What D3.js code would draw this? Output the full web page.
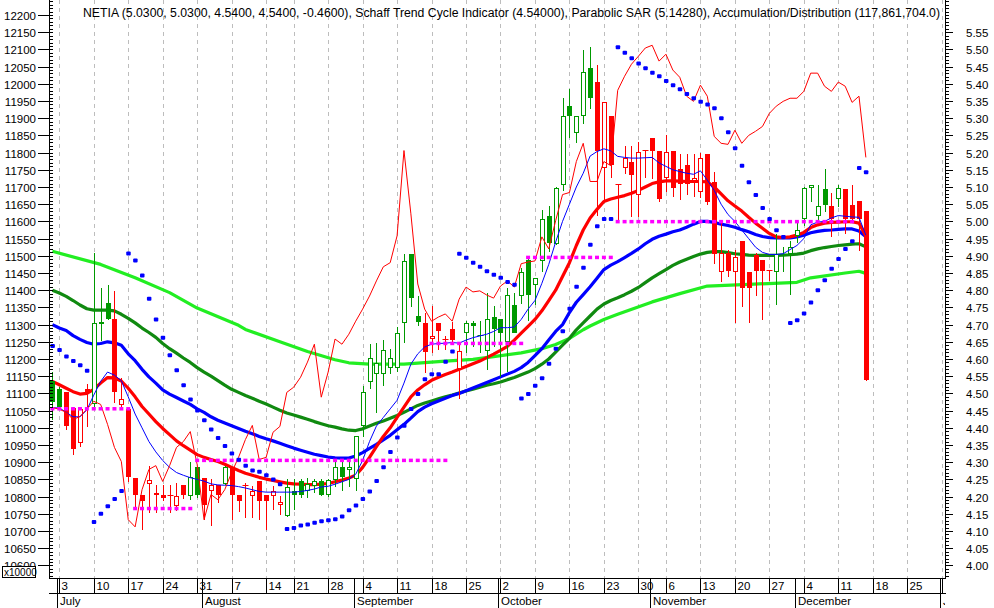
<!DOCTYPE html>
<html><head><meta charset="utf-8">
<script src="https://cdn.jsdelivr.net/npm/d3@7"></script>
<style>body{margin:0;background:#fff;overflow:hidden} text{font-family:"Liberation Sans",Arial,sans-serif}</style>
</head><body><svg id="c" width="994" height="608"></svg>
<script>
// ---------- DATA ----------
const firstDay = "2006-06-30";
const lastAxisDay = "2007-01-01";
const holidays = ["2006-08-15", "2006-11-01"];
const monthNames = ["January","February","March","April","May","June","July","August","September","October","November","December"];

const titleText = "NETIA (5.0300, 5.0300, 4.5400, 4.5400, -0.4600), Schaff Trend Cycle Indicator (4.54000), Parabolic SAR (5.14280), Accumulation/Distribution (117,861,704.0)";

const openP = [4.536,4.514,4.505,4.458,4.356,4.514,4.468,4.706,4.763,4.715,
 4.466,4.456,4.253,4.205,4.236,4.210,4.205,4.206,4.174,4.234,
 4.203,4.285,4.254,4.216,4.235,4.237,4.285,4.206,4.235,4.203,
 4.245,4.206,4.203,4.177,4.145,4.216,4.245,4.216,4.232,4.245,
 4.206,4.247,4.285,4.276,4.251,4.406,4.534,4.556,4.556,4.575,
 4.575,4.706,4.904,4.725,4.706,4.657,4.706,4.657,4.686,4.570,
 4.677,4.706,4.670,4.623,4.723,4.715,4.648,4.756,4.783,4.887,
 4.814,4.884,5.015,4.935,5.107,5.336,5.256,5.307,5.445,5.406,
 5.155,5.306,5.108,5.155,5.174,5.077,5.208,5.242,5.206,5.126,
 5.206,5.153,5.163,5.116,5.085,5.196,5.114,4.853,4.907,4.853,
 4.944,4.853,4.901,4.887,4.858,4.853,4.904,4.904,4.957,5.007,
 5.097,5.017,5.095,5.046,5.065,5.095,5.047,5.058,5.030];
const highP = [4.562,4.518,4.505,4.460,4.456,4.527,4.908,4.807,4.814,4.797,
 4.545,4.456,4.253,4.205,4.288,4.235,4.234,4.234,4.240,4.234,
 4.300,4.285,4.254,4.251,4.235,4.290,4.285,4.206,4.240,4.232,
 4.245,4.206,4.232,4.203,4.251,4.250,4.251,4.253,4.251,4.251,
 4.251,4.305,4.310,4.300,4.377,4.522,4.643,4.646,4.654,4.628,
 4.694,4.904,4.904,4.783,4.735,4.754,4.706,4.667,4.707,4.643,
 4.710,4.710,4.710,4.793,4.754,4.715,4.807,4.792,4.865,4.899,
 4.836,5.034,5.044,5.100,5.358,5.384,5.307,5.498,5.507,5.454,
 5.346,5.306,5.108,5.218,5.218,5.232,5.208,5.242,5.206,5.251,
 5.206,5.196,5.196,5.196,5.198,5.196,5.145,5.005,4.918,4.918,
 4.944,4.853,4.909,4.887,4.858,4.962,4.926,4.942,5.000,5.100,
 5.105,5.106,5.153,5.082,5.106,5.095,5.106,5.058,5.030];
const lowP = [4.425,4.456,4.396,4.324,4.346,4.406,4.459,4.655,4.717,4.475,
 4.464,4.246,4.165,4.106,4.155,4.155,4.190,4.155,4.162,4.195,
 4.193,4.200,4.135,4.116,4.184,4.237,4.135,4.157,4.140,4.140,
 4.135,4.106,4.165,4.150,4.145,4.165,4.200,4.200,4.213,4.206,
 4.203,4.232,4.220,4.232,4.220,4.377,4.517,4.447,4.524,4.560,
 4.565,4.648,4.754,4.700,4.561,4.619,4.628,4.628,4.648,4.488,
 4.619,4.638,4.620,4.570,4.638,4.551,4.565,4.680,4.763,4.712,
 4.759,4.855,4.913,4.935,5.090,5.245,5.230,5.287,5.330,5.020,
 5.063,5.130,4.997,5.140,5.015,5.015,5.130,5.126,5.060,5.087,
 5.075,5.065,5.080,5.073,5.070,5.050,4.880,4.826,4.840,4.708,
 4.754,4.708,4.785,4.715,4.830,4.759,4.855,4.788,4.940,4.990,
 5.058,5.000,5.030,4.957,5.044,4.966,5.007,4.916,4.540];
const closeP = [4.475,4.460,4.406,4.337,4.454,4.500,4.706,4.708,4.717,4.505,
 4.485,4.256,4.205,4.186,4.248,4.205,4.197,4.206,4.203,4.205,
 4.256,4.205,4.177,4.235,4.205,4.285,4.206,4.186,4.235,4.216,
 4.186,4.186,4.216,4.184,4.227,4.206,4.206,4.238,4.245,4.206,
 4.247,4.285,4.256,4.285,4.375,4.505,4.604,4.587,4.625,4.604,
 4.677,4.884,4.778,4.708,4.619,4.667,4.681,4.657,4.655,4.623,
 4.706,4.696,4.670,4.715,4.686,4.676,4.785,4.676,4.853,4.787,
 4.836,5.007,4.937,5.097,5.306,5.307,5.307,5.435,5.358,5.206,
 5.346,5.164,5.108,5.184,5.135,5.203,5.208,5.206,5.065,5.203,
 5.097,5.110,5.110,5.126,5.184,5.056,4.904,4.907,4.855,4.897,
 4.807,4.807,4.855,4.855,4.858,4.906,4.904,4.926,4.976,5.097,
 5.105,5.046,5.047,5.007,5.097,5.007,5.007,5.007,4.540];
// trend state of each bar: 1 = up (green), 0 = down (red)
const trendUp = [1,1,0,0,0,0,1,1,1,0,
 0,0,0,0,0,0,0,0,0,0,
 1,1,0,0,0,1,0,0,0,0,
 0,0,0,0,1,1,1,1,1,1,
 1,1,1,1,1,1,1,1,1,1,
 1,1,1,1,0,0,0,0,0,0,
 1,1,1,1,1,1,1,1,1,1,
 1,1,1,1,1,1,1,1,1,0,
 0,0,0,0,0,0,0,0,0,0,
 0,0,0,0,0,0,0,0,0,0,
 0,0,0,0,0,1,1,1,1,1,
 1,1,1,0,1,0,0,0,0];

const redMA = [4.535,4.525,4.515,4.505,4.498,4.500,4.512,4.530,4.546,4.545,
 4.536,4.515,4.490,4.462,4.440,4.418,4.398,4.380,4.362,4.348,
 4.335,4.322,4.314,4.308,4.302,4.294,4.285,4.276,4.268,4.262,
 4.256,4.251,4.247,4.243,4.239,4.237,4.236,4.235,4.235,4.236,
 4.238,4.243,4.248,4.254,4.262,4.285,4.314,4.345,4.375,4.400,
 4.430,4.460,4.490,4.510,4.525,4.538,4.547,4.555,4.562,4.570,
 4.578,4.586,4.594,4.604,4.614,4.625,4.637,4.655,4.675,4.695,
 4.715,4.740,4.770,4.800,4.840,4.880,4.930,4.975,5.010,5.035,
 5.058,5.065,5.070,5.075,5.082,5.090,5.100,5.110,5.115,5.118,
 5.118,5.117,5.116,5.116,5.116,5.115,5.100,5.080,5.060,5.045,
 5.030,5.012,4.995,4.980,4.965,4.955,4.953,4.955,4.960,4.968,
 4.982,4.990,4.995,4.997,4.998,4.999,4.999,4.995,4.957];
const blueMA = [4.700,4.690,4.683,4.668,4.657,4.648,4.643,4.645,4.650,4.647,
 4.640,4.615,4.595,4.570,4.548,4.530,4.510,4.498,4.488,4.478,
 4.468,4.455,4.445,4.432,4.422,4.414,4.406,4.398,4.390,4.383,
 4.375,4.368,4.362,4.355,4.348,4.341,4.335,4.329,4.323,4.319,
 4.315,4.313,4.312,4.312,4.318,4.328,4.340,4.352,4.365,4.378,
 4.394,4.410,4.428,4.447,4.460,4.470,4.478,4.486,4.494,4.500,
 4.508,4.516,4.524,4.532,4.540,4.548,4.556,4.564,4.575,4.590,
 4.610,4.630,4.655,4.680,4.700,4.735,4.765,4.787,4.810,4.835,
 4.860,4.873,4.883,4.895,4.907,4.920,4.935,4.948,4.957,4.963,
 4.970,4.975,4.983,4.992,5.000,5.000,4.997,4.992,4.988,4.983,
 4.976,4.970,4.962,4.956,4.953,4.952,4.952,4.952,4.955,4.960,
 4.967,4.971,4.974,4.975,4.977,4.978,4.978,4.972,4.955];
const darkGreenMA = [4.800,4.792,4.782,4.770,4.757,4.746,4.742,4.742,4.742,4.740,
 4.730,4.718,4.705,4.690,4.677,4.663,4.645,4.630,4.617,4.603,
 4.590,4.575,4.562,4.550,4.537,4.524,4.512,4.503,4.494,4.486,
 4.477,4.469,4.460,4.451,4.443,4.437,4.431,4.425,4.418,4.412,
 4.406,4.402,4.397,4.393,4.392,4.397,4.405,4.413,4.420,4.428,
 4.436,4.445,4.455,4.465,4.472,4.478,4.484,4.490,4.495,4.501,
 4.507,4.512,4.518,4.524,4.528,4.533,4.540,4.546,4.554,4.562,
 4.572,4.585,4.600,4.620,4.640,4.660,4.685,4.705,4.725,4.745,
 4.760,4.770,4.778,4.787,4.797,4.808,4.822,4.836,4.848,4.860,
 4.872,4.882,4.890,4.898,4.905,4.910,4.912,4.912,4.909,4.906,
 4.904,4.902,4.901,4.901,4.901,4.901,4.902,4.903,4.905,4.908,
 4.915,4.920,4.924,4.927,4.930,4.932,4.934,4.935,4.926];
// light green long average: [bar, value] readings
const lightGreenMA = [[0,4.913],[7,4.875],[12,4.836],[17,4.793],[21,4.748],[27,4.698],[28,4.686],
 [33,4.650],[37,4.622],[41,4.598],[43,4.589],[46,4.585],[51,4.585],[57,4.594],[61,4.599],
 [64,4.607],[68,4.618],[71,4.630],[73,4.642],[75,4.660],[77,4.685],[78,4.696],[80,4.715],
 [82,4.730],[87,4.766],[91,4.790],[95,4.812],[101,4.817],[108,4.823],[110,4.836],[115,4.850],
 [117,4.855],[118,4.849]];
const thinBlue = [4.458,4.458,4.445,4.432,4.432,4.452,4.495,4.535,4.562,4.553,
 4.537,4.490,4.440,4.400,4.360,4.330,4.305,4.285,4.270,4.262,
 4.255,4.250,4.245,4.237,4.234,4.233,4.232,4.229,4.225,4.220,
 4.215,4.213,4.213,4.213,4.213,4.213,4.215,4.218,4.222,4.228,
 4.230,4.236,4.243,4.250,4.265,4.305,4.360,4.405,4.430,4.455,
 4.480,4.530,4.585,4.615,4.635,4.643,4.645,4.646,4.648,4.646,
 4.655,4.662,4.667,4.672,4.680,4.691,4.691,4.693,4.715,4.745,
 4.770,4.820,4.875,4.940,5.000,5.050,5.100,5.140,5.190,5.203,
 5.211,5.205,5.189,5.186,5.184,5.184,5.185,5.186,5.170,5.160,
 5.150,5.145,5.140,5.137,5.147,5.120,5.090,5.050,5.020,5.000,
 4.975,4.950,4.925,4.910,4.904,4.904,4.906,4.918,4.930,4.950,
 4.990,4.998,5.000,5.010,5.017,5.015,5.013,5.012,4.960];
// Accumulation/Distribution, in units of 10000
const accDist = [11059,11054,11045,11024,11033,11054,11077,11068,11010,10943,
 10902,10733,10712,10820,10879,10890,10844,10890,10943,10960,
 10989,10893,10733,10806,10791,10820,10870,10914,10966,11007,
 10908,10914,10987,11004,11103,11118,11147,11191,11243,11089,
 11162,11258,11243,11272,11310,11345,11383,11427,11468,11480,
 11558,11806,11622,11418,11345,11310,11322,11331,11310,11374,
 11409,11395,11398,11386,11377,11412,11427,11409,11477,11482,
 11485,11555,11520,11602,11678,11684,11774,11827,11716,11716,
 11774,11762,11981,12022,12057,12080,12104,12112,12066,12086,
 12040,12019,11964,11949,11996,11964,11847,11827,11824,11865,
 11827,11850,11862,11876,11914,11935,11949,11958,11958,11978,
 12031,12031,11993,11978,12005,11993,11946,11964,11786];
const parabolicSAR = [4.638,4.626,4.607,4.594,4.582,4.566,4.126,4.150,4.172,4.193,
 4.216,4.907,4.886,4.843,4.775,4.715,4.662,4.611,4.567,4.524,
 4.482,4.450,4.422,4.395,4.370,4.347,4.325,4.307,4.290,4.276,
 4.272,4.262,4.250,4.236,4.106,4.109,4.116,4.119,4.124,4.128,
 4.131,4.134,4.142,4.160,4.174,4.193,4.215,4.245,4.285,4.330,
 4.372,4.406,4.455,4.498,4.541,4.556,4.556,4.592,4.622,4.906,
 4.894,4.880,4.868,4.855,4.845,4.836,4.824,4.816,4.485,4.498,
 4.522,4.544,4.586,4.630,4.681,4.746,4.810,4.865,4.932,4.986,
 5.007,5.007,5.506,5.490,5.474,5.459,5.445,5.432,5.422,5.408,
 5.396,5.384,5.370,5.358,5.348,5.340,5.329,5.300,5.259,5.213,
 5.162,5.114,5.077,5.039,5.007,4.974,4.955,4.705,4.713,4.732,
 4.764,4.800,4.829,4.862,4.891,4.920,4.942,5.155,5.143];
// support / resistance levels: [first bar, last bar, price]
const levels = [[0,11,4.456],[12,20,4.166],[21,57,4.306],[55,68,4.646],[69,81,4.896],[82,116,5.000]];

const leftTickStep = 50, leftTickMin = 10600, leftTickMax = 12200;
const rightTickStep = 0.05, rightTickMin = 4.00, rightTickMax = 5.55;

// ---------- BUILD ----------
const parseD = d3.timeParse("%Y-%m-%d"), fmtD = d3.timeFormat("%Y-%m-%d");
const days = [];
{
  let d = parseD(firstDay); const end = parseD(lastAxisDay);
  while (d <= end) {
    const wd = d.getDay();
    if (wd !== 0 && wd !== 6 && !holidays.includes(fmtD(d))) days.push(new Date(d));
    d = d3.timeDay.offset(d, 1);
  }
}
const nBars = closeP.length;

const svg = d3.select("#c");
const W = 994, H = 608;
const plotL = 49, plotR = 945, plotT = 0, plotB = 578;

const x = d3.scaleLinear().domain([0, days.length - 1]).range([52.4, 941.7]);
const yR = d3.scaleLinear().domain([4.10, 5.55]).range([531, 32.2]);
const yL = d3.scaleLinear().domain([10700, 12200]).range([531, 15]);
const px = i => Math.round(x(i)) + 0.5;

svg.append("rect").attr("width", W).attr("height", H).attr("fill", "#fff");

// week ticks & month boundaries
const weekTicks = [], monthTicks = [];
days.forEach((d, i) => {
  if (i === 0) return;
  const p = days[i - 1];
  if (d.getDay() <= p.getDay() || (d - p) > 3 * 864e5) weekTicks.push(i);
  if (d.getMonth() !== p.getMonth()) monthTicks.push(i);
});

const defs = svg.append("defs");
defs.append("clipPath").attr("id", "pc").append("rect")
  .attr("x", plotL).attr("y", plotT).attr("width", plotR - plotL).attr("height", plotB - plotT);
defs.append("clipPath").attr("id", "ac").append("rect")
  .attr("x", 0).attr("y", plotB).attr("width", plotR).attr("height", H - plotB);
defs.append("clipPath").attr("id", "lc").append("rect")
  .attr("x", 0).attr("y", 0).attr("width", plotL).attr("height", 566);

const gGrid = svg.append("g");
weekTicks.forEach(i => {
  gGrid.append("line").attr("x1", px(i)).attr("x2", px(i)).attr("y1", plotT).attr("y2", plotB)
    .attr("stroke", "#bdbdbd").attr("stroke-dasharray", "4,4");
});

const plot = svg.append("g").attr("clip-path", "url(#pc)");
const idx = d3.range(nBars);
const lineR = arr => d3.line().x((v, i) => x(i)).y(v => yR(v))(arr);

// moving averages
plot.append("path").attr("d", d3.line().x(d => x(d[0])).y(d => yR(d[1]))(lightGreenMA))
  .attr("fill", "none").attr("stroke", "#22ee22").attr("stroke-width", 3.2).attr("stroke-linejoin", "round");
plot.append("path").attr("d", lineR(darkGreenMA)).attr("fill", "none").attr("stroke", "#108a10").attr("stroke-width", 3.2).attr("stroke-linejoin", "round");
plot.append("path").attr("d", lineR(blueMA)).attr("fill", "none").attr("stroke", "#0000ff").attr("stroke-width", 3.2).attr("stroke-linejoin", "round");
plot.append("path").attr("d", lineR(redMA)).attr("fill", "none").attr("stroke", "#ff0000").attr("stroke-width", 3.2).attr("stroke-linejoin", "round");

// candles
const GREEN = "#009900", RED = "#ff0000";
idx.forEach(i => {
  const col = trendUp[i] ? GREEN : RED;
  const xc = px(i);
  const o = openP[i], c = closeP[i], h = highP[i], l = lowP[i];
  plot.append("line").attr("x1", xc).attr("x2", xc).attr("y1", Math.round(yR(h))).attr("y2", Math.round(yR(l)) + 1)
    .attr("stroke", col).attr("stroke-width", 1);
  const yt = Math.round(yR(Math.max(o, c))), yb = Math.round(yR(Math.min(o, c)));
  if (c < o) {
    plot.append("rect").attr("x", xc - 2.5).attr("y", yt).attr("width", 5).attr("height", Math.max(1, yb - yt)).attr("fill", col);
  } else if (c > o) {
    plot.append("rect").attr("x", xc - 2).attr("y", yt + 0.5).attr("width", 4).attr("height", Math.max(1, yb - yt - 1))
      .attr("fill", "#fff").attr("stroke", col).attr("stroke-width", 1);
  } else {
    plot.append("line").attr("x1", xc - 3).attr("x2", xc + 3).attr("y1", yt + 0.5).attr("y2", yt + 0.5).attr("stroke", col);
  }
});

// thin lines
plot.append("path").attr("d", lineR(thinBlue)).attr("fill", "none").attr("stroke", "#0000ff").attr("stroke-width", 1);
plot.append("path").attr("d", d3.line().x((v, i) => x(i)).y(v => yL(v))(accDist)).attr("fill", "none").attr("stroke", "#ff0000").attr("stroke-width", 1);

// levels
levels.forEach(([a, b, p]) => {
  d3.range(a, b + 1).forEach(i => {
    plot.append("rect").attr("x", x(i) - 2).attr("y", yR(p) - 1.5).attr("width", 4).attr("height", 3.5).attr("fill", "#ff00ff");
  });
});

// SAR
idx.forEach(i => {
  plot.append("rect").attr("x", x(i) - 2).attr("y", yR(parabolicSAR[i]) - 2).attr("width", 4.5).attr("height", 4)
    .attr("rx", 1).attr("fill", "#0000ff");
});

// axes
const ax = svg.append("g");
ax.append("line").attr("x1", plotL + 0.5).attr("x2", plotL + 0.5).attr("y1", 0).attr("y2", plotB).attr("stroke", "#000");
ax.append("line").attr("x1", plotR + 0.5).attr("x2", plotR + 0.5).attr("y1", 0).attr("y2", plotB).attr("stroke", "#000");
ax.append("line").attr("x1", plotL).attr("x2", plotR + 1).attr("y1", plotB + 0.5).attr("y2", plotB + 0.5).attr("stroke", "#000");
ax.append("line").attr("x1", plotL).attr("x2", plotR + 1).attr("y1", 593.5).attr("y2", 593.5).attr("stroke", "#000");

// left axis ticks
for (let v = 10560; v <= 12250; v += 10) {
  const yy = Math.round(yL(v)) + 0.5;
  if (yy < 0 || yy > plotB) continue;
  ax.append("line").attr("x1", plotL).attr("x2", plotL + 4).attr("y1", yy).attr("y2", yy).attr("stroke", "#000");
}
const leftLab = ax.append("g").attr("clip-path", "url(#lc)");
d3.range(leftTickMin, leftTickMax + 1, leftTickStep).forEach(v => {
  const yy = Math.round(yL(v)) + 0.5;
  ax.append("line").attr("x1", plotL - 11).attr("x2", plotL).attr("y1", yy).attr("y2", yy).attr("stroke", "#000");
  leftLab.append("text").attr("x", 36).attr("y", yy + 4).attr("text-anchor", "end").attr("font-size", 11.5).text(v);
});
// right axis ticks
for (let k = 396; k <= 564; k++) {
  const v = k / 100; const yy = Math.round(yR(v)) + 0.5;
  if (yy < 0 || yy > plotB) continue;
  ax.append("line").attr("x1", plotR).attr("x2", plotR + 4).attr("y1", yy).attr("y2", yy).attr("stroke", "#000");
}
d3.range(0, Math.round((rightTickMax - rightTickMin) / rightTickStep) + 1).forEach(k => {
  const v = rightTickMin + k * rightTickStep; const yy = Math.round(yR(v)) + 0.5;
  ax.append("line").attr("x1", plotR).attr("x2", plotR + 8).attr("y1", yy).attr("y2", yy).attr("stroke", "#000");
  ax.append("text").attr("x", 966).attr("y", yy + 4).attr("font-size", 11.5).text(d3.format(".2f")(v));
});

// x10000 box
ax.append("rect").attr("x", 2.5).attr("y", 566.5).attr("width", 33).attr("height", 11).attr("fill", "#fff").attr("stroke", "#000");
ax.append("text").attr("x", 4).attr("y", 576).attr("font-size", 10).text("x10000");

// date axis
const dax = svg.append("g").attr("clip-path", "url(#ac)");
weekTicks.forEach(i => {
  dax.append("line").attr("x1", px(i)).attr("x2", px(i)).attr("y1", plotB).attr("y2", 593).attr("stroke", "#000");
  dax.append("text").attr("x", px(i) + 2).attr("y", 590).attr("font-size", 11.5).text(days[i].getDate());
});
monthTicks.forEach(i => {
  const xm = Math.round(x(i)) - 1.5;
  dax.append("line").attr("x1", xm).attr("x2", xm).attr("y1", plotB).attr("y2", H).attr("stroke", "#000");
  dax.append("text").attr("x", xm + 2.5).attr("y", 605).attr("font-size", 11.5).text(monthNames[days[i].getMonth()]);
});

// title
svg.append("text").attr("x", 83).attr("y", 16.5).attr("font-size", 12.5)
  .attr("textLength", 857).attr("lengthAdjust", "spacingAndGlyphs").text(titleText);
</script>
</body></html>
